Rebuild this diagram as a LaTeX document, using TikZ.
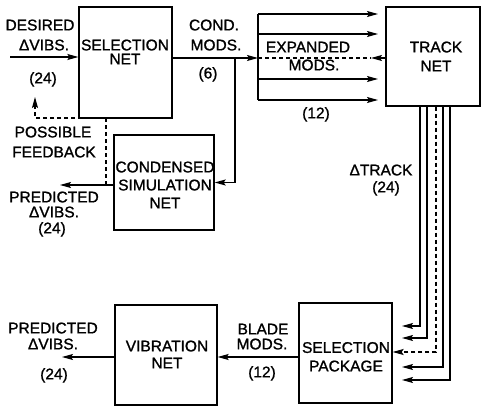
\documentclass[tikz,border=0pt]{standalone}
\usepackage{fontspec}
\setmainfont{Liberation Sans}
\newfontfamily\lblfont{Liberation Sans}[FakeBold=1.2]
\usetikzlibrary{arrows.meta}
\begin{document}
\begin{tikzpicture}[x=1pt,y=-1pt,line width=1.2pt,
  box/.style={draw,line width=1.3pt,inner sep=0pt,minimum width=#1},
  lbl/.style={inner sep=0pt,font=\lblfont\fontsize{15.5}{18}\selectfont,text height=10.8pt,text depth=0pt},
  arr/.style={-{Stealth[length=11pt,width=6pt,inset=2pt]}},
  dsh/.style={dash pattern=on 4pt off 3pt}]
\useasboundingbox (0,0) rectangle (482,406);
% boxes
\node[box=93pt,minimum height=111pt] (sel) at (125.5,62.5) {};
\node[box=94pt,minimum height=99pt] (track) at (433,56.5) {};
\node[box=100pt,minimum height=95pt] (cond) at (164,182.5) {};
\node[box=102pt,minimum height=100pt] (vib) at (166,355) {};
\node[box=93pt,minimum height=100pt] (pkg) at (345.5,353) {};
% box texts
\node[lbl] (selT1) at (125,45) {SELECTION};
\node[lbl] (selT2) at (125,59) {NET};
\node[lbl] (trT1) at (436,47) {TRACK};
\node[lbl] (trT2) at (436,66) {NET};
\node[lbl] (coT1) at (165,167) {CONDENSED};
\node[lbl] (coT2) at (165,185) {SIMULATION};
\node[lbl] (coT3) at (165,203) {NET};
\node[lbl] (viT1) at (167,346) {VIBRATION};
\node[lbl] (viT2) at (167,363) {NET};
\node[lbl] (pkT1) at (346,347.5) {SELECTION};
\node[lbl] (pkT2) at (346,366) {PACKAGE};
% labels
\node[lbl] (l1) at (40,25) {DESIRED};
\node[lbl] (l2) at (44,45) {ΔVIBS.};
\node[lbl] (l3) at (43,78) {(24)};
\node[lbl] (l4) at (214,25) {COND.};
\node[lbl] (l5) at (216,45) {MODS.};
\node[lbl] (l6) at (208,73) {(6)};
\node[lbl] (l7) at (308,47) {EXPANDED};
\node[lbl] (l8) at (314,65) {MODS.};
\node[lbl] (l9) at (316,113) {(12)};
\node[lbl] (l10) at (53,132) {POSSIBLE};
\node[lbl] (l11) at (54,152) {FEEDBACK};
\node[lbl] (l12) at (54,197) {PREDICTED};
\node[lbl] (l13) at (54,212) {ΔVIBS.};
\node[lbl] (l14) at (52,228) {(24)};
\node[lbl] (l15) at (381,170) {ΔTRACK};
\node[lbl] (l16) at (386,187) {(24)};
\node[lbl] (l17) at (53,328) {PREDICTED};
\node[lbl] (l18) at (53,344) {ΔVIBS.};
\node[lbl] (l19) at (54,374) {(24)};
\node[lbl] (l20) at (263,329) {BLADE};
\node[lbl] (l21) at (262,344) {MODS.};
\node[lbl] (l22) at (262,372) {(12)};
% coordinates
\coordinate (inL) at (10,57);
\coordinate (j1) at (235,58);
\coordinate (bar) at (258,58);
\coordinate (barT) at (258,14);
\coordinate (barB) at (258,100);
\coordinate (fanE) at (378,0);
\coordinate (dEnd) at (371,58);
\coordinate (outC) at (60,185);
\coordinate (fb1) at (106,185);
\coordinate (fb2) at (106,118);
\coordinate (fb3) at (35,118);
\coordinate (fb4) at (35,97);
\coordinate (tips) at (402,0);
\coordinate (vy) at (0,357);
\coordinate (outV) at (62,357);
% connectors
\draw[arr] (inL) -- (sel.west |- inL);
\draw[arr] (sel.east |- j1) -- (bar);
\draw (barT) -- (barB);
\foreach \yy in {14,34,79,100}
  \draw[arr] (258,\yy) -- (fanE |- 0,\yy);
\draw[dsh] (bar) -- (dEnd);
\draw[arr] (track.west |- bar) -- (dEnd);
\draw[arr] (j1) |- (cond.east);
\draw[arr] (cond.west |- outC) -- (outC);
\draw[dsh,arr] (fb1) -- (fb2) -- (fb3) -- (fb4);
\draw[arr] (track.south -| 420,0) |- (tips |- 0,326);
\draw[arr] (track.south -| 427,0) |- (tips |- 0,338);
\draw[dsh,arr] (track.south -| 436,0) |- (pkg.east |- 0,352);
\draw[arr] (track.south -| 443,0) |- (tips |- 0,367);
\draw[arr] (track.south -| 450,0) |- (tips |- 0,380);
\draw[arr] (pkg.west |- vy) -- (vib.east |- vy);
\draw[arr] (vib.west |- vy) -- (outV);
\end{tikzpicture}
\end{document}
